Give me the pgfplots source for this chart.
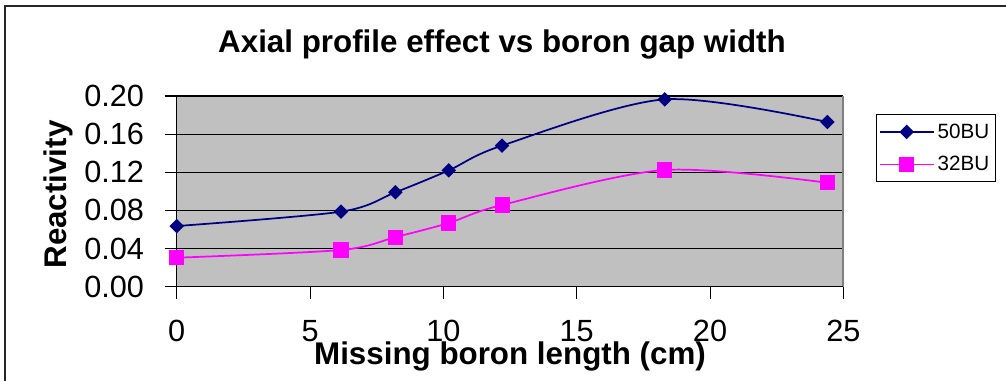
\documentclass[border=0pt]{standalone}
\usepackage{fontspec}
\setmainfont{Liberation Sans}
\usepackage{pgfplots}
\pgfplotsset{compat=1.18}
\definecolor{plotgray}{RGB}{192,192,192}
\definecolor{navy}{RGB}{0,0,128}
\definecolor{mag}{RGB}{255,0,255}
\newcommand{\legfont}{\fontsize{15.5}{18}\selectfont}
\begin{document}
\begin{tikzpicture}
\begin{scope}[x=0.75pt,y=0.75pt]
\useasboundingbox (0,0) rectangle (1006,381);
\draw[black!85,line width=1.2pt] (5,-5) -- (5,375) -- (1012,375);
\end{scope}
\begin{axis}[
  at={(132.53pt,70.73pt)}, anchor=south west,
  scale only axis, width=500pt, height=143pt,
  xmin=0, xmax=25, ymin=0, ymax=0.2,
  xtick={0,5,10,15,20,25},
  ytick={0,0.04,0.08,0.12,0.16,0.2},
  /pgf/number format/assume math mode=true,
  yticklabel style={/pgf/number format/fixed,/pgf/number format/fixed zerofill,/pgf/number format/precision=2},
  scaled y ticks=false,
  tick align=outside, tick pos=left,
  major tick length=9pt,
  tick style={black, line width=0.8pt},
  ticklabel style={font=\fontsize{23}{27}\selectfont},
  yticklabel style={xshift=-12pt},
  xticklabel style={yshift=-12.5pt},
  axis background/.style={fill=plotgray},
  axis line style={draw=none},
  ymajorgrids, grid style={black, line width=0.8pt},
  legend style={at={(rel axis cs:1.049,0.906)}, anchor=north west, draw=black, fill=white,
    font=\legfont, nodes={font=\legfont, inner ysep=4pt, inner xsep=2.5pt},
    row sep=4pt, column sep=0pt, inner xsep=2pt, inner ysep=3pt, line width=0.7pt},
  legend cell align=left,
  legend image code/.code={\draw[#1,mark repeat=2,mark phase=2] plot coordinates {(0pt,0pt) (20pt,0pt) (40pt,0pt)};},
  clip=false,
]
\addplot[navy, line width=1.3pt, smooth, tension=0.5, mark=square*, mark size=3.2pt, mark options={rotate=45, solid, fill=navy}]
 coordinates {(0,0.0636) (6.16,0.0787) (8.2,0.099) (10.2,0.122) (12.2,0.148) (18.3,0.1965) (24.4,0.1727)};
\addlegendentry{\legfont 50BU}
\addplot[mag, line width=1.3pt, smooth, tension=0.5, mark=square*, mark size=5pt, mark options={solid, fill=mag}]
 coordinates {(0,0.0304) (6.16,0.0385) (8.2,0.052) (10.2,0.0668) (12.2,0.0857) (18.3,0.1224) (24.4,0.109)};
\addlegendentry{\legfont 32BU}
\draw[black!50, line width=1.4pt] (rel axis cs:1,0) -- (rel axis cs:1,1);
\draw[black, line width=1pt] (rel axis cs:0,1) -- (rel axis cs:0,0) -- (rel axis cs:1,0);
\end{axis}
\begin{scope}[x=0.75pt,y=0.75pt]
\node[anchor=base, font=\fontsize{23.5}{28}\selectfont\bfseries] at (502,328) {Axial profile effect vs boron gap width};
\node[anchor=base, font=\fontsize{23.5}{28}\selectfont\bfseries] at (510,16) {Missing boron length (cm)};
\node[anchor=base, rotate=90, font=\fontsize{23.5}{28}\selectfont\bfseries] at (67,186.5) {Reactivity};
\end{scope}
\end{tikzpicture}
\end{document}
